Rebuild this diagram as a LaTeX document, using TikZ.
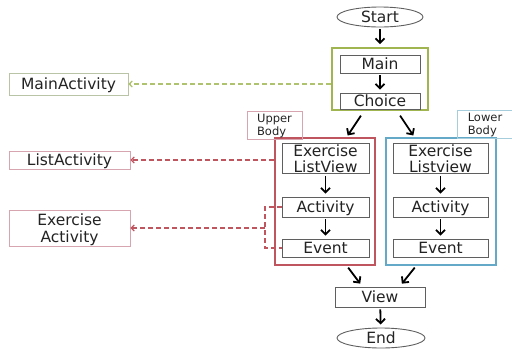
\documentclass[tikz,border=0pt]{standalone}
\usepackage{fontspec}
\setmainfont{DejaVu Sans}
\usetikzlibrary{arrows.meta,shapes.geometric}
\definecolor{grn}{RGB}{160,180,80}
\definecolor{grnl}{RGB}{175,195,110}
\definecolor{rd}{RGB}{190,85,95}
\definecolor{bl}{RGB}{100,170,200}
\definecolor{lblg}{RGB}{185,195,165}
\definecolor{lblr}{RGB}{215,165,175}
\definecolor{lblb}{RGB}{165,205,220}
\definecolor{bx}{RGB}{95,95,95}
\definecolor{txt}{RGB}{35,35,35}
\newcommand\twoc[4]{\raisebox{0pt}[#1][#2]{\begin{tabular}[t]{@{}#3@{}}#4\end{tabular}}}
\tikzset{
  base/.style={line width=0.9pt,text=txt,font=\fontsize{15.5}{15}\selectfont,inner sep=0pt,align=center},
  box/.style={base,draw=bx,fill=white,text height=11.5pt,text depth=1.5pt},
  mbox/.style={base,draw=bx,fill=white},
  lbl/.style={base,draw,text height=11.5pt,text depth=1.5pt},
  mlbl/.style={base,draw,font=\fontsize{15.5}{16.5}\selectfont},
  small/.style={draw,line width=0.9pt,text=txt,font=\fontsize{11.5}{13}\selectfont,inner sep=0pt},
  arr/.style={-{Straight Barb[length=4.5pt,width=9pt]},line width=1.8pt,black,shorten <=2pt,shorten >=3pt},
  dline/.style={dashed,dash pattern=on 5pt off 3pt,line width=1.2pt},
  ell/.style={ellipse,base,draw=bx,text height=11.5pt,text depth=1.5pt}
}
\begin{document}
\begin{tikzpicture}[x=1pt,y=-1pt]
\useasboundingbox (0,0) rectangle (512,349);
% containers
\node[draw=grn,line width=1.8pt,minimum width=96pt,minimum height=62pt,inner sep=0pt] (gbox) at (380,79) {};
\node[draw=rd,line width=1.4pt,minimum width=100pt,minimum height=127pt,inner sep=0pt] (rbox) at (325,201.5) {};
\node[draw=bl,line width=1.4pt,minimum width=110pt,minimum height=127pt,inner sep=0pt] (bbox) at (441,201.5) {};
% main column
\node[ell,minimum width=86pt,minimum height=20pt] (start) at (380,17) {Start};
\node[box,minimum width=80pt,minimum height=18pt] (main) at (380,64) {Main};
\node[box,minimum width=80pt,minimum height=16pt] (choice) at (380,101) {Choice};
\node[box,minimum width=90pt,minimum height=20pt] (view) at (380,297) {View};
\node[ell,minimum width=88pt,minimum height=20pt] (end) at (381,338) {End};
% upper column
\node[mbox,minimum width=87pt,minimum height=29pt] (ul) at (325.5,158.5) {\twoc{13.2pt}{16.8pt}{c}{Exercise\\ListView}};
\node[box,minimum width=87pt,minimum height=20pt] (ua) at (325.5,207) {Activity};
\node[box,minimum width=87pt,minimum height=18pt] (ue) at (325.5,248) {Event};
% lower column
\node[mbox,minimum width=95pt,minimum height=29pt] (ll) at (440.5,158.5) {\twoc{13.2pt}{16.8pt}{c}{Exercise\\Listview}};
\node[box,minimum width=95pt,minimum height=20pt] (la) at (440.5,207) {Activity};
\node[box,minimum width=95pt,minimum height=18pt] (le) at (440.5,248) {Event};
% label boxes
\node[small,draw=lblr,minimum width=55pt,minimum height=28pt] (upper) at (274.5,125) {\twoc{9.4pt}{13.6pt}{l}{Upper\\Body}};
\node[small,draw=lblb,minimum width=56pt,minimum height=28pt] (lower) at (485,124) {\twoc{9.4pt}{13.6pt}{l}{Lower\\Body}};
\node[lbl,draw=lblg,minimum width=119pt,minimum height=22pt] (mact) at (68.5,84) {MainActivity};
\node[lbl,draw=lblr,minimum width=121pt,minimum height=18pt] (lact) at (69.5,160) {ListActivity};
\node[mlbl,draw=lblr,minimum width=121pt,minimum height=36pt] (eact) at (69.5,228) {\twoc{13.2pt}{18.3pt}{c}{Exercise\\Activity}};
% arrows
\draw[arr] (start) -- (gbox.north);
\draw[arr] (main) -- (choice);
\draw[arr] (ul) -- (ua);
\draw[arr] (ua) -- (ue);
\draw[arr] (ll) -- (la);
\draw[arr] (la) -- (le);
\draw[arr] (view) -- (end);
\coordinate (c1) at (362,114);
\coordinate (c2) at (399,114);
\coordinate (c1e) at (346,138);
\coordinate (c2e) at (415,138);
\draw[arr] (c1) -- (c1e);
\draw[arr] (c2) -- (c2e);
\coordinate (v1) at (347,266);
\coordinate (v2) at (416,266);
\coordinate (v1e) at (362,286);
\coordinate (v2e) at (400,286);
\draw[arr] (v1) -- (v1e);
\draw[arr] (v2) -- (v2e);
% dashed links
\draw[dline,draw=grnl,-{Straight Barb[length=3pt,width=6pt]}] (gbox.west |- mact) -- (mact.east);
\draw[dline,draw=rd,-{Straight Barb[length=3pt,width=6pt]}] (rbox.west |- lact) -- (lact.east);
\coordinate (br) at (265,228);
\draw[dline,draw=rd,line width=1.1pt] (ua.west) -| (br) |- (ue.west);
\draw[dline,draw=rd,-{Straight Barb[length=3pt,width=6pt]}] (br) -- (eact.east);
\end{tikzpicture}
\end{document}
